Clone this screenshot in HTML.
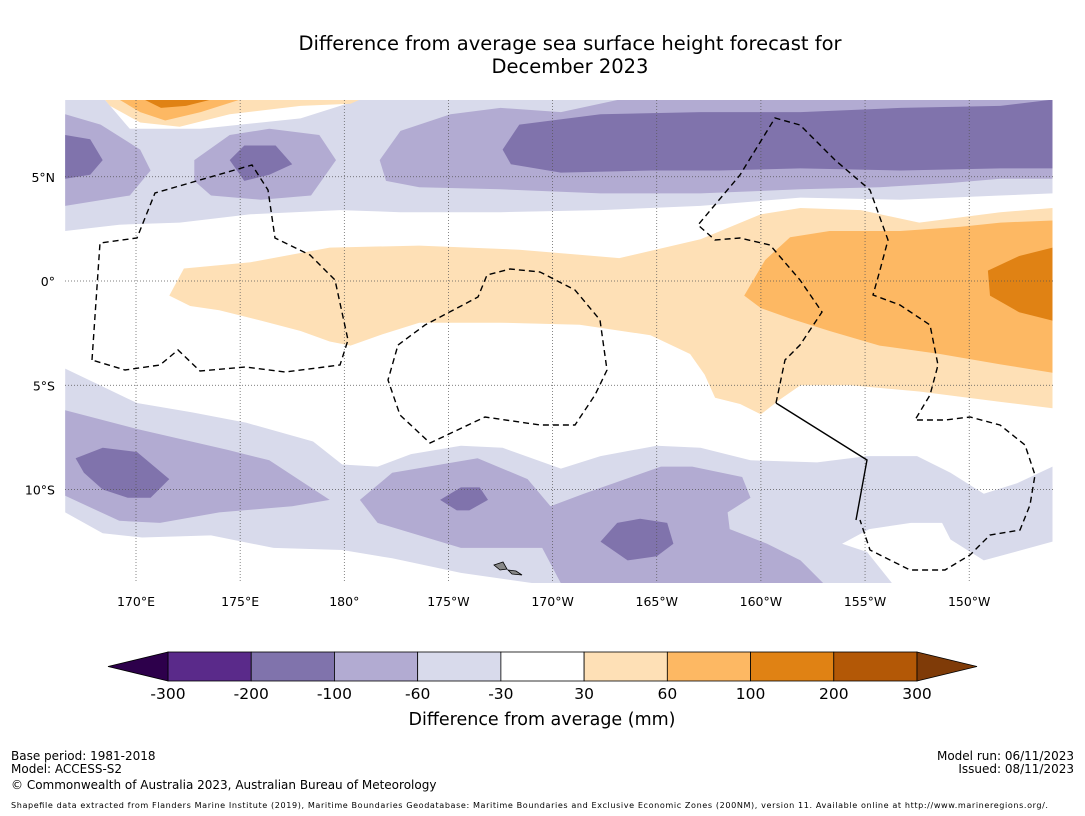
<!DOCTYPE html>
<html><head><meta charset="utf-8"><style>
body{margin:0;background:#fff;font-family:"DejaVu Sans",sans-serif}
svg{display:block}
svg text{font-family:"DejaVu Sans",sans-serif}
</style></head><body>
<svg id="c" width="1085" height="816" viewBox="0 0 1085 816" xmlns="http://www.w3.org/2000/svg">
<rect width="1085" height="816" fill="#fff"/>
<text x="570" y="50" font-size="19.5" text-anchor="middle">Difference from average sea surface height forecast for</text>
<text x="570" y="73" font-size="19.5" text-anchor="middle">December 2023</text>
<g id="map"></g>
<g id="cbar"></g>
<text x="542" y="725" font-size="17.5" text-anchor="middle">Difference from average (mm)</text>
<g font-size="12">
<text x="11" y="760">Base period: 1981-2018</text>
<text x="11" y="773">Model: ACCESS-S2</text>
<text x="11" y="789">© Commonwealth of Australia 2023, Australian Bureau of Meteorology</text>
<text x="1074" y="760" text-anchor="end">Model run: 06/11/2023</text>
<text x="1074" y="773" text-anchor="end">Issued: 08/11/2023</text>
<text x="11" y="808" font-size="8.1" textLength="1037">Shapefile data extracted from Flanders Marine Institute (2019), Maritime Boundaries Geodatabase: Maritime Boundaries and Exclusive Economic Zones (200NM), version 11. Available online at http://www.marineregions.org/.</text>
</g>
</svg>
<script>
// colorbar data
const levels = [-300,-200,-100,-60,-30,30,60,100,200,300];
const levelColors = ["#5a2a8a","#8073ac","#b2abd2","#d8daeb","#ffffff","#fee0b6","#fdb863","#e08214","#b35806"];
// axis ticks
const lonTicks = [170,175,180,185,190,195,200,205,210];
const lonLabels = ["170°E","175°E","180°","175°W","170°W","165°W","160°W","155°W","150°W"];
const latTicks = [5,0,-5,-10];
const latLabels = ["5°N","0°","5°S","10°S"];
// contour polygons [[lon,lat],...]
const lightPurpleNorth = [[166.6,8.7],[168.5,8.7],[169.7,7.3],[173.1,7.3],[177.9,7.8],[180.75,8.7],[214,8.7],[214,4.2],[211.5,4.1],[206.7,3.9],[201.9,4.0],[197.1,3.6],[192.3,3.4],[187.5,3.3],[182.7,3.3],[179.8,3.4],[175.5,3.2],[172.1,2.8],[169.2,2.7],[166.6,2.4]];
const medPurpleN1 = [[166.6,8.0],[168.3,7.5],[170.2,6.3],[170.7,5.3],[169.7,4.1],[166.6,3.6]];
const medPurpleN2 = [[172.8,5.8],[174.5,7.0],[176.4,7.3],[178.8,7.0],[179.6,5.8],[178.4,4.1],[176.0,3.9],[173.6,4.1],[172.8,4.8]];
const medPurpleN3 = [[181.7,5.8],[182.7,7.2],[185.1,8.0],[187.5,8.3],[190.4,8.1],[193.2,8.7],[214,8.7],[214,4.9],[211.5,4.9],[209.1,4.7],[205.7,4.5],[201.9,4.4],[197.1,4.2],[192.3,4.2],[187.5,4.4],[183.6,4.5],[182.0,4.8]];
const darkPurpleN1 = [[166.6,7.0],[167.8,6.8],[168.4,5.8],[167.8,5.1],[166.6,4.9]];
const darkPurpleN2 = [[174.5,5.8],[175.2,6.5],[176.7,6.5],[177.5,5.6],[176.4,5.1],[175.2,4.8]];
const darkPurpleN3 = [[187.6,6.3],[188.4,7.5],[192.3,8.0],[197.1,8.1],[201.9,8.1],[206.7,8.3],[211.5,8.4],[214,8.7],[214,5.4],[211.5,5.4],[206.7,5.3],[201.9,5.4],[198.0,5.3],[194.7,5.3],[190.4,5.2],[188.0,5.6]];
const lightPurpleSouth = [[166.6,-4.2],[170.05,-5.85],[172.7,-6.3],[175.3,-6.8],[178.5,-7.7],[179.9,-8.8],[181.6,-8.9],[183.2,-8.3],[185.6,-7.9],[187.6,-8.0],[190.4,-9.0],[192.3,-8.4],[195.0,-7.9],[197.1,-8.0],[199.5,-8.6],[202.7,-8.7],[205.1,-8.4],[207.5,-8.4],[209.1,-9.2],[210.7,-10.2],[212.3,-9.7],[214,-8.9],[214,-12.5],[210.7,-13.4],[209.1,-12.4],[208.7,-11.6],[207.2,-11.6],[205.2,-11.9],[203.9,-12.6],[205.1,-13.0],[206.3,-14.5],[189.1,-14.5],[185.6,-14.0],[182.3,-13.3],[179.9,-12.9],[176.6,-12.8],[173.6,-12.2],[170.3,-12.3],[168.4,-12.1],[166.6,-11.1]];
const medPurpleS1 = [[166.6,-6.2],[170.05,-7.1],[174.4,-8.1],[176.4,-8.6],[179.3,-10.5],[177.5,-10.8],[174.0,-11.1],[171.15,-11.6],[169.2,-11.5],[166.6,-10.3]];
const medPurpleS2 = [[180.75,-10.5],[182.3,-9.2],[186.4,-8.5],[188.8,-9.5],[189.9,-10.8],[191.5,-10.2],[195.2,-8.9],[196.7,-8.9],[199.1,-9.4],[199.5,-10.4],[198.4,-11.1],[198.5,-11.9],[200.3,-12.6],[201.9,-13.4],[203.0,-14.5],[190.4,-14.5],[189.5,-12.8],[185.6,-12.8],[181.6,-11.6]];
const darkPurpleS1 = [[167.1,-8.5],[168.4,-8.0],[170.05,-8.2],[171.6,-9.5],[170.7,-10.4],[169.6,-10.4],[168.4,-10.0],[167.5,-9.2]];
const darkPurpleS2 = [[184.6,-10.5],[185.6,-9.9],[186.5,-9.9],[186.9,-10.5],[186.0,-11.0],[185.4,-11.0]];
const darkPurpleS3 = [[192.3,-12.5],[193.1,-11.6],[194.2,-11.4],[195.5,-11.6],[195.8,-12.6],[195.0,-13.2],[193.6,-13.4]];
const lightOrangeEq = [[171.6,-0.7],[172.3,0.6],[175.5,0.9],[179.3,1.6],[183.6,1.7],[188.4,1.5],[193.2,1.1],[197.1,2.0],[200.0,3.2],[201.9,3.5],[204.8,3.4],[207.6,2.8],[211.5,3.3],[214,3.5],[214,-6.1],[211.5,-5.8],[207.6,-5.3],[204.3,-5.0],[201.9,-5.0],[200.9,-5.7],[200.0,-6.4],[199.0,-5.9],[197.8,-5.6],[197.3,-4.5],[196.6,-3.5],[194.7,-2.6],[191.3,-2.1],[187.5,-2.0],[183.6,-2.0],[181.7,-2.6],[180.3,-3.1],[179.3,-2.9],[177.9,-2.4],[176.0,-1.9],[174.0,-1.4],[172.6,-1.2]];
const midOrangeEq = [[199.2,-0.7],[200.2,1.0],[201.4,2.1],[203.3,2.4],[206.7,2.4],[209.6,2.6],[211.5,2.8],[214,2.9],[214,-4.4],[211.5,-4.0],[208.6,-3.5],[205.7,-3.1],[203.3,-2.4],[201.4,-1.8],[200.0,-1.3]];
const darkOrangeEq = [[210.9,0.5],[212.4,1.2],[214,1.6],[214,-1.9],[212.4,-1.5],[211.0,-0.7]];
const lightOrangeTop = [[168.5,8.7],[180.75,8.7],[180.3,8.5],[177.9,8.4],[174.5,8.0],[172.1,7.4],[170.2,7.6],[168.75,8.4]];
const midOrangeTop = [[169.2,8.7],[175.0,8.7],[173.1,8.1],[171.4,7.7],[170.2,8.1]];
const darkOrangeTop = [[170.4,8.7],[173.6,8.7],[172.4,8.4],[171.2,8.3]];

const NS="http://www.w3.org/2000/svg";
const X0=65,X1=1053,Y0=100,Y1=583;
const xScale = lon => 136 + (lon-170)*20.83;
const yScale = lat => 281 - lat*20.85;
const map=document.getElementById('map');
function el(tag,attrs,parent){const e=document.createElementNS(NS,tag);for(const k in attrs)e.setAttribute(k,attrs[k]);parent.appendChild(e);return e;}
const clip=el('clipPath',{id:'mc'},el('defs',{},map));
el('rect',{x:X0,y:Y0,width:X1-X0,height:Y1-Y0},clip);
const fills=el('g',{'clip-path':'url(#mc)'},map);
const layers=[
 [lightPurpleNorth,3,'contour-light-purple-north'],[medPurpleN1,2,'contour-mid-purple-n1'],[medPurpleN2,2,'contour-mid-purple-n2'],[medPurpleN3,2,'contour-mid-purple-n3'],
 [darkPurpleN1,1,'contour-dark-purple-n1'],[darkPurpleN2,1,'contour-dark-purple-n2'],[darkPurpleN3,1,'contour-dark-purple-n3'],
 [lightPurpleSouth,3,'contour-light-purple-south'],[medPurpleS1,2,'contour-mid-purple-s1'],[medPurpleS2,2,'contour-mid-purple-s2'],
 [darkPurpleS1,1,'contour-dark-purple-s1'],[darkPurpleS2,1,'contour-dark-purple-s2'],[darkPurpleS3,1,'contour-dark-purple-s3'],
 [lightOrangeEq,5,'contour-light-orange-eq'],[midOrangeEq,6,'contour-mid-orange-eq'],[darkOrangeEq,7,'contour-dark-orange-eq'],
 [lightOrangeTop,5,'contour-light-orange-top'],[midOrangeTop,6,'contour-mid-orange-top'],[darkOrangeTop,7,'contour-dark-orange-top']];
for(const [pts,ci,name] of layers){
  const p=el('polygon',{points:pts.map(q=>xScale(q[0]).toFixed(1)+','+yScale(q[1]).toFixed(1)).join(' '),fill:levelColors[ci]},fills);
  
  
}
// grid
for(let i=0;i<lonTicks.length;i++){
  const x=xScale(lonTicks[i]);
  const g=el('line',{x1:x,x2:x,y1:Y0,y2:Y1,stroke:'#555','stroke-width':0.7,'stroke-dasharray':'1,2'},map);
  
  
  const t=el('text',{x:x,y:606,'font-size':12.5,'text-anchor':'middle'},map);
  t.textContent=lonLabels[i];
  
  
}
for(let i=0;i<latTicks.length;i++){
  const y=yScale(latTicks[i]);
  const g=el('line',{x1:X0,x2:X1,y1:y,y2:y,stroke:'#555','stroke-width':0.7,'stroke-dasharray':'1,2'},map);
  
  
  const t=el('text',{x:55,y:y+5,'font-size':12.5,'text-anchor':'end'},map);
  t.textContent=latLabels[i];
  
  
}
// EEZ boundaries
const eez=[
 "M92,360 L100,243 L137,238 L155,193 L200,180 L252,165 L268,190 L275,238 L310,255 L335,280 L348,340 L340,365 L285,372 L245,367 L200,371 L178,350 L160,365 L125,370 Z",
 "M398,345 L425,325 L478,297 L487,275 L510,269 L540,272 L575,290 L600,320 L607,370 L595,395 L575,425 L540,425 L485,417 L430,443 L400,415 L388,380 Z",
 "M776,403 L785,360 L800,345 L822,312 L800,280 L770,245 L740,238 L715,240 L698,225 L740,175 L775,118 L800,125 L835,160 L870,190 L888,240 L880,270 L873,295 L900,305 L930,325 L938,365 L930,395 L915,420 L945,420 L970,417 L1000,425 L1025,445 L1035,475 L1030,505 L1020,530 L990,535 L970,555 L945,570 L910,570 L870,550 L860,520"];
for(const d of eez){const p=el('path',{d:d,fill:'none',stroke:'#000','stroke-width':1.4,'stroke-dasharray':'6,4'},map);
  
  }
const sl=el('path',{d:'M776,403 L867,460 L856,520',fill:'none',stroke:'#000','stroke-width':1.4},map);


// islands
const isl=el('path',{d:'M494,565 L503,562 L507,569 L500,570 Z M508,570 L516,571 L522,575 L512,574 Z',fill:'#888',stroke:'#000','stroke-width':0.8},map);



// colorbar
const cb=document.getElementById('cbar');
const cx0=168,cx1=917,cy=652,ch=29;
const cbScale=i=>cx0+(cx1-cx0)*i/(levels.length-1);
for(let i=0;i<levelColors.length;i++){
  const r=el('rect',{x:cbScale(i),y:cy,width:cbScale(i+1)-cbScale(i),height:ch,fill:levelColors[i],stroke:'#000','stroke-width':0.8},cb);
  
  
}
const lt=el('polygon',{points:`${cx0},${cy} 108,${cy+ch/2} ${cx0},${cy+ch}`,fill:'#2d004b',stroke:'#000','stroke-width':0.8},cb);


const rt=el('polygon',{points:`${cx1},${cy} 977,${cy+ch/2} ${cx1},${cy+ch}`,fill:'#7f3b08',stroke:'#000','stroke-width':0.8},cb);


for(let i=0;i<levels.length;i++){
  const t=el('text',{x:cbScale(i),y:699,'font-size':15.5,'text-anchor':'middle'},cb);
  t.textContent=levels[i];
  
  
}
</script>
</body></html>
